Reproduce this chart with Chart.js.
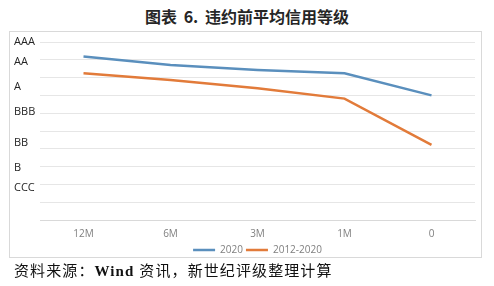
<!DOCTYPE html>
<html>
<head>
<meta charset="utf-8">
<script src="https://cdn.jsdelivr.net/npm/chart.js@4/dist/chart.umd.min.js"></script>
<style>
  html, body { margin: 0; padding: 0; background: #fff; }
  body { width: 494px; height: 286px; position: relative; overflow: hidden; }
  #title {
    position: absolute; left: 0; top: 4px; width: 494px; text-align: center;
    font: bold 16px "Noto Sans CJK SC", sans-serif; color: #262626; word-spacing: 3px;
  }
  #frame {
    position: absolute; left: 9px; top: 31px; width: 471px; height: 225px;
    border: 1px solid #d9d9d9;
  }
  #chart { position: absolute; left: 0; top: 0; }
  #source {
    position: absolute; left: 14px; top: 259px;
    font: 15px "Liberation Serif", "Noto Sans CJK SC", serif; color: #111; letter-spacing: 1.1px;
  }
</style>
</head>
<body>
<div id="title">图表 6. 违约前平均信用等级</div>
<div id="frame"></div>
<canvas id="chart" width="494" height="286"></canvas>
<div id="source">资料来源：<b>Wind</b> 资讯，新世纪评级整理计算</div>
<script>
// months before default
const categories = ["12M", "6M", "3M", "1M", "0"];
// average rating, on a 0-10 scale where AAA = 10
const series2020 = [9.18, 8.71, 8.43, 8.24, 7.0];
const series2012_2020 = [8.24, 7.86, 7.40, 6.82, 4.22];
// rating labels and where they sit on the same scale
const ratingLabels = ["AAA", "AA", "A", "BBB", "BB", "B", "CCC"];
const ratingPositions = [10.0, 8.87, 7.48, 6.06, 4.32, 2.93, 1.83];

const ratingLabelsPlugin = {
  id: "ratingLabels",
  afterDraw(chart) {
    const ctx = chart.ctx;
    const y = chart.scales.y;
    ctx.save();
    ctx.font = '11px "Open Sans", sans-serif';
    ctx.fillStyle = "#262626";
    ctx.textAlign = "left";
    ctx.textBaseline = "middle";
    ratingLabels.forEach((label, i) => {
      ctx.fillText(label, 14, y.getPixelForValue(ratingPositions[i]));
    });
    ctx.restore();
  },
};

new Chart(document.getElementById("chart"), {
  type: "line",
  data: {
    labels: categories,
    datasets: [
      {
        label: "2020",
        data: series2020,
        borderColor: "#5a8fbd",
        backgroundColor: "#5a8fbd",
        borderWidth: 2.5,
        pointRadius: 0,
        tension: 0,
      },
      {
        label: "2012-2020",
        data: series2012_2020,
        borderColor: "#e27b3a",
        backgroundColor: "#e27b3a",
        borderWidth: 2.5,
        pointRadius: 0,
        tension: 0,
      },
    ],
  },
  options: {
    responsive: false,
    animation: false,
    layout: { padding: { left: 40, right: 19, top: 42, bottom: 21 } },
    plugins: {
      title: { display: false },
      tooltip: { enabled: false },
      legend: {
        position: "bottom",
        labels: {
          usePointStyle: true,
          pointStyle: "line",
          pointStyleWidth: 22,
          boxHeight: 3,
          padding: 3,
          color: "#7f7f7f",
          font: { size: 10, family: '"Open Sans", sans-serif' },
        },
      },
    },
    scales: {
      x: {
        offset: true,
        grid: { display: false },
        border: { display: true, color: "#d9d9d9" },
        ticks: { color: "#7f7f7f", padding: 0, font: { size: 10, family: '"Open Sans", sans-serif' } },
        afterFit(scale) {
          scale.height += 2;
        },
      },
      y: {
        min: 0,
        max: 10,
        ticks: { stepSize: 1, display: false },
        border: { display: false },
        grid: { color: "#e6e6e6", drawTicks: false },
      },
    },
  },
  plugins: [ratingLabelsPlugin],
});
</script>
</body>
</html>
